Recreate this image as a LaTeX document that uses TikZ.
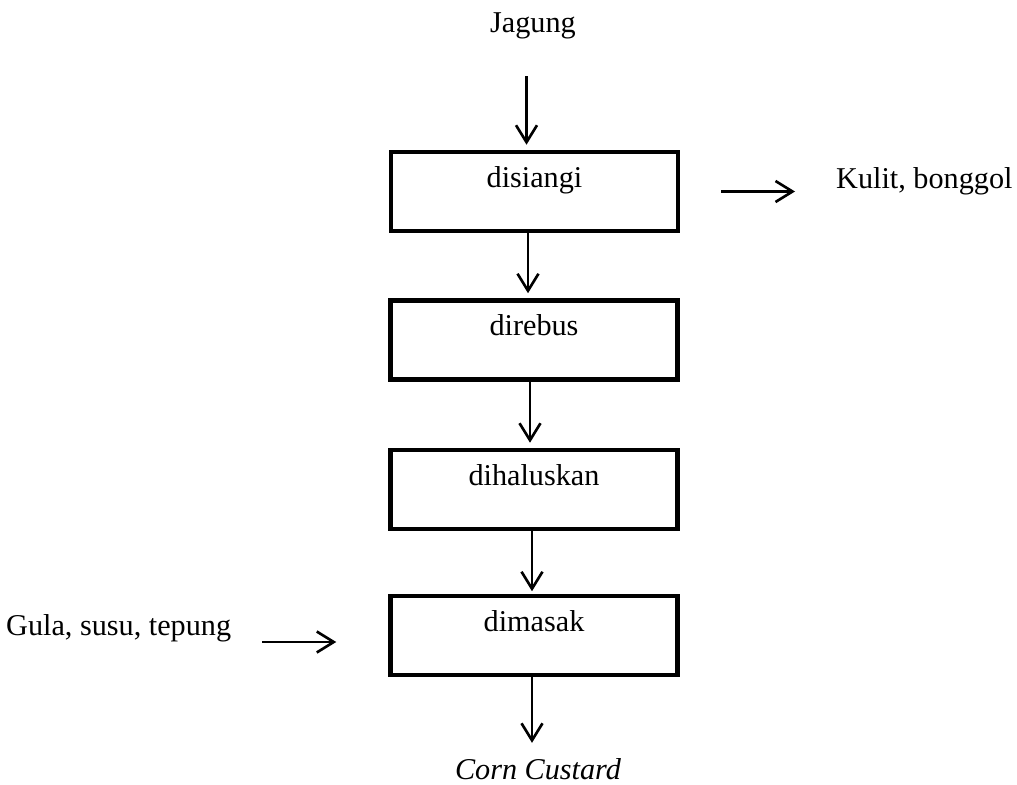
\documentclass[tikz,border=0pt]{standalone}
\usepackage{fontspec}
\setmainfont{Liberation Serif}
\usetikzlibrary{arrows.meta}
\newcommand{\flowfont}{\fontsize{17.2}{20}\selectfont}

\begin{document}
\begin{tikzpicture}[x=0.02cm, y=-0.02cm,
    >={Straight Barb[length=3.4mm,width=4.2mm]},
    every node/.style={font=\flowfont},
    stepbox/.style={draw, line width=2.6pt, minimum width=5.74cm, minimum height=1.58cm,
        text height=12pt, text depth=17pt, inner sep=0pt},
    flow/.style={->, line width=1.5pt}]
\useasboundingbox (0,0) rectangle (1017,784);

\node (jagung) at (533,26) {Jagung};
        \node[stepbox] (disiangi) at (534.5,191.5) {disiangi};
        \node[stepbox] (direbus) at (534,340) {direbus};
        \node[stepbox] (dihaluskan) at (534,489.5) {dihaluskan};
        \node[stepbox] (dimasak) at (534,635.5) {dimasak};
        \node[anchor=west] (kulit) at (830,181) {Kulit, bonggol};
        \node[anchor=west] (gula) at (0,628) {Gula, susu, tepung};
        \node[anchor=base] (corn) at (538,779) {\itshape Corn Custard};

% main line
\draw[flow, shorten <=0.62cm, shorten >=0.1cm] ([xshift=-0.13cm]jagung.south) -- ([xshift=-0.13cm]jagung.south |- disiangi.north);
\draw[flow, shorten >=0.1cm] ([xshift=-0.13cm]disiangi.south) -- ([xshift=-0.13cm]disiangi.south |- direbus.north);
\draw[flow, shorten >=0.1cm] ([xshift=-0.08cm]direbus.south) -- ([xshift=-0.08cm]direbus.south |- dihaluskan.north);
\draw[flow, shorten >=0.05cm] ([xshift=-0.04cm]dihaluskan.south) -- ([xshift=-0.04cm]dihaluskan.south |- dimasak.north);
\draw[flow, shorten >=0.18cm] ([xshift=-0.04cm]dimasak.south) -- ([xshift=-0.04cm]dimasak.south |- corn.north);

% side inputs and outputs
\draw[flow, shorten <=0.82cm, shorten >=0.7cm] (disiangi.east) -- (disiangi.east -| kulit.west);
\draw[flow, shorten <=0.5cm, shorten >=1.04cm] ([yshift=-0.28cm]gula.east) -- ([yshift=-0.28cm]gula.east -| dimasak.west);
\end{tikzpicture}
\end{document}
